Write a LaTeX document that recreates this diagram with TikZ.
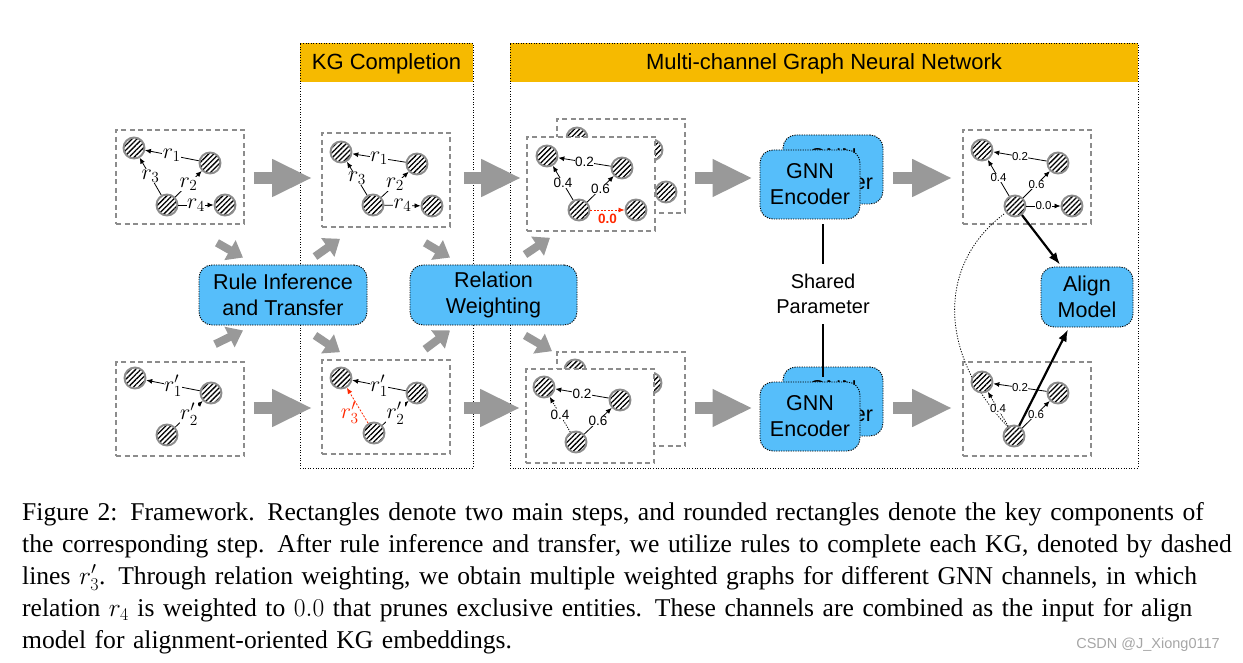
\RequirePackage{fix-cm}
\documentclass[tikz,border=0pt]{standalone}
\usepackage{amssymb,amsmath}
\usepackage{fontspec}
\setmainfont{Liberation Serif}
\setsansfont{Liberation Sans}
\usepackage{tikz}
\usetikzlibrary{arrows.meta,patterns.meta,calc}
\definecolor{skyblue}{RGB}{86,190,250}
\definecolor{amber}{RGB}{246,186,0}
\definecolor{rulered}{RGB}{255,40,0}
\tikzstyle{entity}=[circle,draw=black!45,line width=1.9pt,preaction={fill=white},pattern={Lines[angle=45,distance=3.6pt,line width=1.3pt]},minimum size=21pt,inner sep=0pt]
\tikzstyle{rel}=[draw,line width=0.8pt,-{Latex[length=6pt,width=5pt]}]
\tikzstyle{weak}=[rel,dash pattern=on 1.2pt off 1.3pt]
\tikzstyle{inferred}=[rel,draw=rulered,dash pattern=on 2pt off 1.5pt]
\tikzstyle{rlabel}=[fill=white,inner sep=0.6pt,font=\fontsize{22}{22}\selectfont]
\tikzstyle{wlabel}=[fill=white,inner sep=0.6pt,font=\sffamily\fontsize{13.5}{13.5}\selectfont]
\tikzstyle{flabel}=[fill=white,inner sep=0.4pt,font=\sffamily\fontsize{11.5}{11.5}\selectfont]
\tikzstyle{graphbox}=[draw=black!45,line width=1.6pt,dash pattern=on 5pt off 3.5pt,fill=white,minimum width=128pt,minimum height=94pt,inner sep=0pt]
\tikzstyle{module}=[rounded corners=13pt,fill=skyblue,draw=black,line width=0.9pt,dash pattern=on 1.2pt off 1.2pt,font=\sffamily\fontsize{21.5}{26}\selectfont,align=center,inner sep=0pt]
\tikzstyle{panel}=[draw=black,line width=0.8pt,dash pattern=on 1pt off 1.6pt]
\tikzstyle{header}=[fill=amber,font=\sffamily\fontsize{22}{22}\selectfont,inner sep=0pt]
\tikzstyle{bigarrow}=[draw=black!40,line width=12pt,-{Triangle[length=40pt,width=35pt]}]
\tikzstyle{smallarrow}=[draw=black!40,line width=8pt,-{Triangle[length=15pt,width=22pt]}]
\tikzstyle{feed}=[draw,line width=2.2pt,-{Latex[length=12pt,width=9pt]}]
\tikzstyle{pair}=[draw,line width=0.8pt,dash pattern=on 1.2pt off 1.5pt]
\tikzstyle{share}=[draw,line width=1.5pt]
\begin{document}
\begin{tikzpicture}[x=1pt,y=-1pt]
      \useasboundingbox (0,0) rectangle (1243,663);
      \coordinate (rowA) at (0,178);
      \coordinate (rowB) at (0,408);
      \node[header,minimum width=173pt,minimum height=39pt,text depth=2pt] (kgHead) at (386.5,62.5) {KG Completion};
      \node[header,minimum width=628pt,minimum height=39pt,text depth=2pt] (mcHead) at (824,62.5) {Multi-channel Graph Neural Network};
      \node[panel,minimum width=173pt,minimum height=425pt] (kgPanel) at (386.5,255.5) {};
      \node[panel,minimum width=628pt,minimum height=425pt] (mcPanel) at (824,255.5) {};

      \node[graphbox] (kgA) at (180,177) {};
      \node[entity] (a1) at (134,148) {};
      \node[entity] (a2) at (210,163) {};
      \node[entity] (a3) at (167,205) {};
      \node[entity] (a4) at (225,205) {};
      \draw[rel] (a2) to node[rlabel] {$r_1$} (a1);
      \draw[rel] (a3) to node[rlabel] {$r_2$} (a2);
      \draw[rel] (a3) to node[rlabel] {$r_3$} (a1);
      \draw[rel] (a3) to node[rlabel] {$r_4$} (a4);

      \node[graphbox] (kgB) at (180,409) {};
      \node[entity] (b1) at (135,378) {};
      \node[entity] (b2) at (211,393) {};
      \node[entity] (b3) at (167,435) {};
      \draw[rel] (b2) to node[rlabel] {$r'_1$} (b1);
      \draw[rel] (b3) to node[rlabel] {$r'_2$} (b2);

      \node[graphbox] (kgC) at (386,180) {};
      \node[entity] (c1) at (341,152) {};
      \node[entity] (c2) at (417,164) {};
      \node[entity] (c3) at (373,205) {};
      \node[entity] (c4) at (432,206) {};
      \draw[rel] (c2) to node[rlabel] {$r_1$} (c1);
      \draw[rel] (c3) to node[rlabel] {$r_2$} (c2);
      \draw[rel] (c3) to node[rlabel] {$r_3$} (c1);
      \draw[rel] (c3) to node[rlabel] {$r_4$} (c4);

      \node[graphbox] (kgD) at (386,407) {};
      \node[entity] (d1) at (341,378) {};
      \node[entity] (d2) at (417,393) {};
      \node[entity] (d3) at (374,433) {};
      \draw[rel] (d2) to node[rlabel] {$r'_1$} (d1);
      \draw[rel] (d3) to node[rlabel] {$r'_2$} (d2);
      \draw[inferred] (d3) to node[rlabel,fill=none,text=rulered,pos=0.3,left=2pt] {$r'_3$} (d1);

      \node[graphbox] (wTopB) at (621,166) {};
      \node[entity] (p1) at (577,138) {};
      \node[entity] (p2) at (652,150) {};
      \node[entity] (p3) at (609,192) {};
      \node[entity] (p4) at (666,192) {};
      \node[graphbox] (wTop) at (591,184) {};
      \node[entity] (w1) at (547,156) {};
      \node[entity] (w2) at (622,168) {};
      \node[entity] (w3) at (579,210) {};
      \node[entity] (w4) at (636,210) {};
      \draw[rel] (w2) to node[wlabel] {0.2} (w1);
      \draw[rel] (w3) to node[wlabel] {0.6} (w2);
      \draw[rel] (w3) to node[wlabel] {0.4} (w1);
      \draw[inferred] (w3) to node[wlabel,fill=none,text=rulered,font=\sffamily\bfseries\fontsize{13.5}{13.5}\selectfont,below=3pt] {0.0} (w4);

      \node[graphbox] (wBotB) at (621,399) {};
      \node[entity] (q1) at (575,370) {};
      \node[entity] (q2) at (651,383) {};
      \node[entity] (q3) at (607,425) {};
      \node[graphbox] (wBot) at (590,416) {};
      \node[entity] (v1) at (544,387) {};
      \node[entity] (v2) at (620,400) {};
      \node[entity] (v3) at (576,442) {};
      \draw[rel] (v2) to node[wlabel] {0.2} (v1);
      \draw[rel] (v3) to node[wlabel] {0.6} (v2);
      \draw[weak] (v3) to node[wlabel] {0.4} (v1);

      \node[module,minimum width=100pt,minimum height=69pt] (gnnB) at (833,169.5) {GNN\\Encoder};
      \node[module,minimum width=100pt,minimum height=69pt] (gnnA) at (810,184.5) {GNN\\Encoder};
      \node[module,minimum width=100pt,minimum height=69pt] (gnnD) at (833,401.5) {GNN\\Encoder};
      \node[module,minimum width=100pt,minimum height=69pt] (gnnC) at (810,416.5) {GNN\\Encoder};
      \node[font=\sffamily\fontsize{20}{25}\selectfont,align=center,inner sep=10pt] (shared) at (823,294) {Shared\\Parameter};
      \draw[share,shorten >=5pt] (shared) -- (shared |- gnnA.south);
      \draw[share,shorten >=5pt] (shared) -- (shared |- gnnC.north);

      \node[graphbox] (fTop) at (1027,177) {};
      \node[graphbox] (fBot) at (1027,409) {};
      \draw[pair] (1004,214) .. controls (940,262) and (935,350) .. (1008,427);
      \node[entity] (f1) at (982,150) {};
      \node[entity] (f2) at (1058,163) {};
      \node[entity] (f3) at (1015,206) {};
      \node[entity] (f4) at (1072,206) {};
      \draw[rel] (f2) to node[flabel] {0.2} (f1);
      \draw[rel] (f3) to node[flabel] {0.6} (f2);
      \draw[rel] (f3) to node[flabel] {0.4} (f1);
      \draw[rel] (f3) to node[flabel] {0.0} (f4);
      \node[entity] (g1) at (982,382) {};
      \node[entity] (g2) at (1058,393) {};
      \node[entity] (g3) at (1014,436) {};
      \draw[rel] (g2) to node[flabel] {0.2} (g1);
      \draw[rel] (g3) to node[flabel] {0.6} (g2);
      \draw[weak] (g3) to node[flabel] {0.4} (g1);

      \node[module,minimum width=92pt,minimum height=60pt] (align) at (1087,297) {Align\\Model};
      \draw[feed] (f3) to ($(align.north)+(-27,-2)$);
      \draw[feed] (g3) to ($(align.south)+(-19,2)$);

      \node[module,minimum width=168pt,minimum height=60pt] (rule) at (283,295) {Rule Inference\\and Transfer};
      \node[module,minimum width=167pt,minimum height=60pt] (relw) at (493.5,295) {Relation\\Weighting};

      \draw[bigarrow] ($(kgA.east |- rowA)+(9,0)$) -- ($(kgC.west |- rowA)+(-9,0)$);
      \draw[bigarrow] ($(kgB.east |- rowB)+(9,0)$) -- ($(kgD.west |- rowB)+(-9,0)$);
      \draw[bigarrow] ($(kgC.east |- rowA)+(13,0)$) -- ($(wTop.west |- rowA)+(-5,0)$);
      \draw[bigarrow] ($(kgD.east |- rowB)+(13,0)$) -- ($(wBot.west |- rowB)+(-5,0)$);
      \draw[bigarrow] ($(wTopB.east |- rowA)+(9,0)$) -- ($(gnnA.west |- rowA)+(-7,0)$);
      \draw[bigarrow] ($(wBotB.east |- rowB)+(9,0)$) -- ($(gnnC.west |- rowB)+(-7,0)$);
      \draw[bigarrow] ($(gnnB.east |- rowA)+(10,0)$) -- ($(fTop.west |- rowA)+(-10,0)$);
      \draw[bigarrow] ($(gnnD.east |- rowB)+(10,0)$) -- ($(fBot.west |- rowB)+(-10,0)$);

      \draw[smallarrow] ($(kgA.south)+(37,18)$) -- ($(rule.north)+(-40,-7)$);
      \draw[smallarrow] ($(kgB.north)+(35,-17)$) -- ($(rule.south)+(-40,5)$);
      \draw[smallarrow] ($(rule.north)+(32,-8)$) -- ($(kgC.south)+(-46,11)$);
      \draw[smallarrow] ($(rule.south)+(32,10)$) -- ($(kgD.north)+(-46,-7)$);
      \draw[smallarrow] ($(kgC.south)+(39,15)$) -- ($(relw.north)+(-43.5,-7)$);
      \draw[smallarrow] ($(kgD.north)+(39,-10)$) -- ($(relw.south)+(-43.5,5)$);
      \draw[smallarrow] ($(relw.north)+(31.5,-10)$) -- ($(wTop.south)+(-41,6)$);
      \draw[smallarrow] ($(relw.south)+(31.5,10)$) -- ($(wBot.north)+(-38,-17)$);

      \node[anchor=north west,inner sep=0pt,text width=1215pt,align=left,font=\fontsize{25.6}{32}\selectfont] (caption) at (22,502) {%
\makebox[1210pt][s]{Figure 2: Framework. Rectangles denote two main steps, and rounded rectangles denote the key components of}\\
\makebox[1210pt][s]{the corresponding step. After rule inference and transfer, we utilize rules to complete each KG, denoted by dashed}\\
\makebox[1210pt][s]{lines $r'_3$. Through relation weighting, we obtain multiple weighted graphs for different GNN channels, in which}\\
\makebox[1210pt][s]{relation $r_4$ is weighted to $0.0$ that prunes exclusive entities. These channels are combined as the input for align}\\
model for alignment-oriented KG embeddings.};
      \node[font=\sffamily\fontsize{14.5}{14.5}\selectfont,text=black!35] (mark) at (1148,645) {CSDN @J\_Xiong0117};
    \end{tikzpicture}
\end{document}
